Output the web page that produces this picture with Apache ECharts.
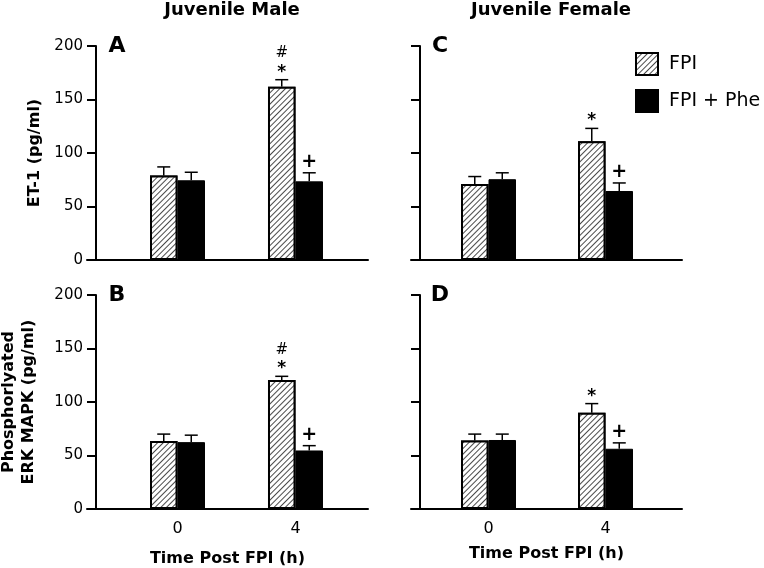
<!DOCTYPE html>
<html>
<head>
<meta charset="utf-8">
<script src="https://cdn.jsdelivr.net/npm/echarts@6/dist/echarts.min.js"></script>
<style>html,body{margin:0;padding:0;background:#fff}#c{width:764px;height:568px}</style>
</head>
<body>
<div id="c"></div>
<script>
// ---- data ----
const times = [0, 4];
const tickLabels = ['0', '4'];
const yTicks = [0, 50, 100, 150, 200];

// Panel A: ET-1, Juvenile Male
const maleET1_FPI = [79, 162];
const maleET1_FPI_sem = [8, 6.5];
const maleET1_Phe = [74.5, 73.5];
const maleET1_Phe_sem = [7.5, 8];
// Panel C: ET-1, Juvenile Female
const femaleET1_FPI = [71, 111];
const femaleET1_FPI_sem = [7, 12];
const femaleET1_Phe = [75.5, 64.5];
const femaleET1_Phe_sem = [6, 7.5];
// Panel B: ERK MAPK, Juvenile Male
const maleERK_FPI = [63.5, 120.5];
const maleERK_FPI_sem = [6.5, 3.5];
const maleERK_Phe = [62.5, 54.7];
const maleERK_Phe_sem = [6.5, 4.5];
// Panel D: ERK MAPK, Juvenile Female
const femaleERK_FPI = [64, 90];
const femaleERK_FPI_sem = [6, 8.5];
const femaleERK_Phe = [64.5, 56.3];
const femaleERK_Phe_sem = [5.5, 5.5];

// significance marks
const maleET1_FPI_star = ['', '*'];
const maleET1_FPI_hash = ['', '#'];
const maleET1_Phe_plus = ['', '+'];
const femaleET1_FPI_star = ['', '*'];
const femaleET1_FPI_hash = ['', ''];
const femaleET1_Phe_plus = ['', '+'];
const maleERK_FPI_star = ['', '*'];
const maleERK_FPI_hash = ['', '#'];
const maleERK_Phe_plus = ['', '+'];
const femaleERK_FPI_star = ['', '*'];
const femaleERK_FPI_hash = ['', ''];
const femaleERK_Phe_plus = ['', '+'];

// ---- styles ----
const FONT = '"DejaVu Sans", sans-serif';
const BAR_W = 27.5;
const hatchDecal = {
  symbol: 'rect', symbolSize: 1, color: '#4a4a4a', backgroundColor: '#fff',
  dashArrayX: [1, 0], dashArrayY: [1, 2.6], rotation: -Math.PI / 4
};
const hatchStyle = { color: '#fff', borderColor: '#000', borderWidth: 2, decal: hatchDecal };
const solidStyle = { color: '#000', borderColor: '#000', borderWidth: 1 };

const chart = echarts.init(document.getElementById('c'), null, { renderer: 'canvas' });

function pairs(vals) { return times.map((t, i) => [t, vals[i]]); }
function errData(vals, sem) { return times.map((t, i) => [t, vals[i], vals[i] + sem[i]]); }

function errSeries(idx, vals, sem, side, star, hash, plus) {
  return {
    type: 'custom', xAxisIndex: idx, yAxisIndex: idx, z: 5, silent: true,
    data: errData(vals, sem), encode: { x: 0, y: [1, 2] },
    renderItem: function (params, api) {
      const i = params.dataIndex;
      const x = api.value(0), m = api.value(1), top = api.value(2);
      const p0 = api.coord([x, m]);
      const p1 = api.coord([x, top]);
      const cx = p0[0] + side * BAR_W / 2;
      const children = [
        { type: 'line', shape: { x1: cx, y1: p0[1], x2: cx, y2: p1[1] }, style: { stroke: '#000', lineWidth: 1.5 } },
        { type: 'line', shape: { x1: cx - 6.5, y1: p1[1], x2: cx + 6.5, y2: p1[1] }, style: { stroke: '#000', lineWidth: 1.5 } }
      ];
      if (star && star[i]) children.push({ type: 'text', x: cx, y: p1[1] + 1, style: { text: star[i], font: 'bold 17px ' + FONT, align: 'center', verticalAlign: 'bottom', fill: '#000' } });
      if (hash && hash[i]) children.push({ type: 'text', x: cx, y: p1[1] - 19, style: { text: hash[i], font: '15px ' + FONT, align: 'center', verticalAlign: 'bottom', fill: '#000' } });
      if (plus && plus[i]) children.push({ type: 'text', x: cx, y: p1[1] - 1, style: { text: plus[i], font: 'bold 19px ' + FONT, align: 'center', verticalAlign: 'bottom', fill: '#000' } });
      return { type: 'group', children: children };
    }
  };
}

function barSeries(idx, name, vals, style) {
  return {
    type: 'bar', name: name, xAxisIndex: idx, yAxisIndex: idx,
    data: pairs(vals), barWidth: BAR_W, barGap: '0%', itemStyle: style, silent: true
  };
}

const grids = [
  { left: 87, top: 46, width: 281, height: 214, outerBoundsMode: 'none', containLabel: false },
  { left: 411, top: 46, width: 271, height: 214, outerBoundsMode: 'none', containLabel: false },
  { left: 87, top: 295, width: 281, height: 214, outerBoundsMode: 'none', containLabel: false },
  { left: 411, top: 295, width: 271, height: 214, outerBoundsMode: 'none', containLabel: false }
];
const xRanges = [[-3.068, 6.458], [-2.650, 6.615], [-3.068, 6.458], [-2.650, 6.615]];
const showX = [false, false, true, true];
const showY = [true, false, true, false];
const yNames = ['ET-1 (pg/ml)', '', 'Phosphorlyated\nERK MAPK (pg/ml)', ''];
const yGaps = [51, 0, 57, 0];
const xGaps = [0, 0, 42, 37];

const xAxis = grids.map((g, k) => ({
  type: 'value', gridIndex: k, min: xRanges[k][0], max: xRanges[k][1],
  splitLine: { show: false }, axisTick: { show: false },
  axisLine: { show: true, onZero: false, lineStyle: { color: '#000', width: 2 } },
  axisLabel: {
    show: showX[k], customValues: times, margin: 12, fontSize: 16, fontFamily: FONT, color: '#000',
    formatter: v => tickLabels[times.indexOf(v)]
  },
  name: showX[k] ? 'Time Post FPI (h)' : '', nameLocation: 'middle', nameGap: xGaps[k],
  nameTextStyle: { fontSize: 16, fontWeight: 'bold', fontFamily: FONT, color: '#000' }
}));
const yAxis = grids.map((g, k) => ({
  type: 'value', gridIndex: k, min: 0, max: 200, interval: 50, offset: -9,
  splitLine: { show: false },
  axisLine: { show: true, onZero: false, lineStyle: { color: '#000', width: 2 } },
  axisTick: { show: true, length: 9, lineStyle: { color: '#000', width: 2 } },
  axisLabel: { show: showY[k], margin: 13, fontSize: 15, fontFamily: FONT, color: '#000' },
  name: yNames[k], nameLocation: 'middle', nameGap: yGaps[k],
  nameTextStyle: { fontSize: 16, fontWeight: 'bold', fontFamily: FONT, color: '#000', lineHeight: 20 }
}));

const series = [
  barSeries(0, 'FPI', maleET1_FPI, hatchStyle),
  barSeries(0, 'FPI + Phe', maleET1_Phe, solidStyle),
  errSeries(0, maleET1_FPI, maleET1_FPI_sem, -1, maleET1_FPI_star, maleET1_FPI_hash, null),
  errSeries(0, maleET1_Phe, maleET1_Phe_sem, 1, null, null, maleET1_Phe_plus),
  barSeries(1, 'FPI', femaleET1_FPI, hatchStyle),
  barSeries(1, 'FPI + Phe', femaleET1_Phe, solidStyle),
  errSeries(1, femaleET1_FPI, femaleET1_FPI_sem, -1, femaleET1_FPI_star, femaleET1_FPI_hash, null),
  errSeries(1, femaleET1_Phe, femaleET1_Phe_sem, 1, null, null, femaleET1_Phe_plus),
  barSeries(2, 'FPI', maleERK_FPI, hatchStyle),
  barSeries(2, 'FPI + Phe', maleERK_Phe, solidStyle),
  errSeries(2, maleERK_FPI, maleERK_FPI_sem, -1, maleERK_FPI_star, maleERK_FPI_hash, null),
  errSeries(2, maleERK_Phe, maleERK_Phe_sem, 1, null, null, maleERK_Phe_plus),
  barSeries(3, 'FPI', femaleERK_FPI, hatchStyle),
  barSeries(3, 'FPI + Phe', femaleERK_Phe, solidStyle),
  errSeries(3, femaleERK_FPI, femaleERK_FPI_sem, -1, femaleERK_FPI_star, femaleERK_FPI_hash, null),
  errSeries(3, femaleERK_Phe, femaleERK_Phe_sem, 1, null, null, femaleERK_Phe_plus)
];

const textEl = (x, y, text, font) => ({
  type: 'text', x: x, y: y, silent: true,
  style: { text: text, font: font, align: 'center', verticalAlign: 'middle', fill: '#000' }
});

chart.setOption({
  animation: false,
  backgroundColor: '#fff',
  grid: grids,
  xAxis: xAxis,
  yAxis: yAxis,
  legend: {
    data: ['FPI', 'FPI + Phe'], orient: 'vertical', left: 635, top: 52,
    itemWidth: 22, itemHeight: 22, itemGap: 13, icon: 'rect', selectedMode: false, padding: 0,
    textStyle: { fontSize: 19, fontFamily: FONT, color: '#000', padding: [0, 0, 0, 6] }
  },
  graphic: [
    textEl(232, 10, 'Juvenile Male', 'bold 18px ' + FONT),
    textEl(551, 10, 'Juvenile Female', 'bold 18px ' + FONT),
    textEl(117, 46, 'A', 'bold 22px ' + FONT),
    textEl(440, 46, 'C', 'bold 22px ' + FONT),
    textEl(117, 295, 'B', 'bold 22px ' + FONT),
    textEl(440, 295, 'D', 'bold 22px ' + FONT)
  ],
  series: series
});
</script>
</body>
</html>
